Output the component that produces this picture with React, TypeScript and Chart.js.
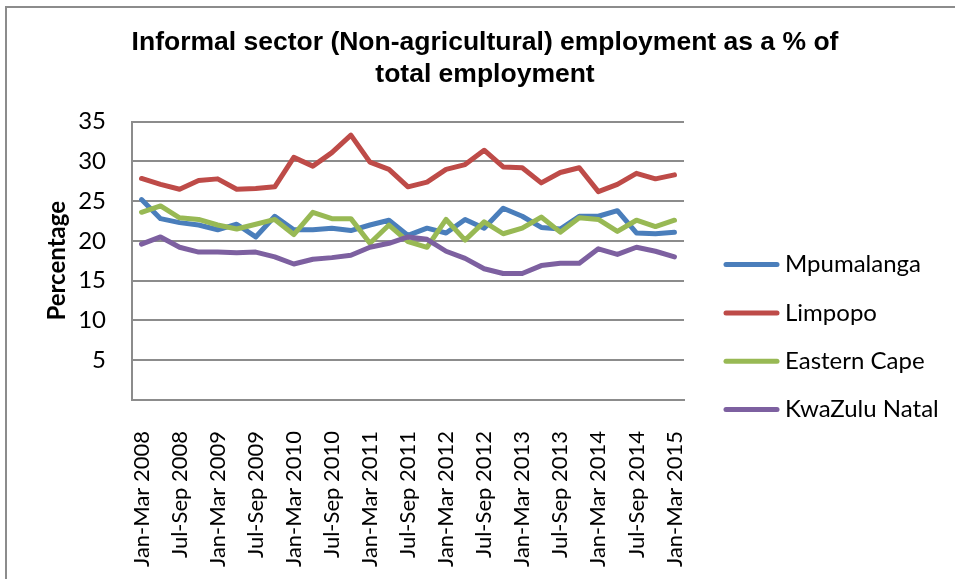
import React, { useEffect, useRef } from "react";
import { Chart, registerables } from "chart.js";

Chart.register(...registerables);

const quarters = [
  "Jan-Mar 2008", "Apr-Jun 2008", "Jul-Sep 2008", "Oct-Dec 2008",
  "Jan-Mar 2009", "Apr-Jun 2009", "Jul-Sep 2009", "Oct-Dec 2009",
  "Jan-Mar 2010", "Apr-Jun 2010", "Jul-Sep 2010", "Oct-Dec 2010",
  "Jan-Mar 2011", "Apr-Jun 2011", "Jul-Sep 2011", "Oct-Dec 2011",
  "Jan-Mar 2012", "Apr-Jun 2012", "Jul-Sep 2012", "Oct-Dec 2012",
  "Jan-Mar 2013", "Apr-Jun 2013", "Jul-Sep 2013", "Oct-Dec 2013",
  "Jan-Mar 2014", "Apr-Jun 2014", "Jul-Sep 2014", "Oct-Dec 2014",
  "Jan-Mar 2015",
];

const mpumalanga = [25.2, 22.8, 22.3, 22.0, 21.4, 22.1, 20.5, 23.1, 21.4, 21.4, 21.6, 21.3, 22.0, 22.6, 20.7, 21.6, 21.0, 22.7, 21.6, 24.1, 23.1, 21.7, 21.5, 23.1, 23.1, 23.8, 21.0, 20.9, 21.1];
const limpopo = [27.85, 27.1, 26.5, 27.6, 27.8, 26.5, 26.6, 26.8, 30.5, 29.4, 31.1, 33.3, 29.9, 29.0, 26.8, 27.4, 29.0, 29.6, 31.4, 29.3, 29.2, 27.3, 28.6, 29.2, 26.2, 27.1, 28.5, 27.8, 28.3];
const easternCape = [23.6, 24.4, 22.9, 22.7, 22.0, 21.5, 22.1, 22.7, 20.8, 23.6, 22.8, 22.8, 19.7, 22.0, 19.9, 19.2, 22.7, 20.1, 22.4, 20.9, 21.6, 23.0, 21.1, 22.9, 22.7, 21.2, 22.6, 21.8, 22.6];
const kwaZuluNatal = [19.6, 20.5, 19.2, 18.6, 18.6, 18.5, 18.6, 18.0, 17.1, 17.7, 17.9, 18.2, 19.2, 19.7, 20.5, 20.2, 18.7, 17.8, 16.5, 15.9, 15.9, 16.9, 17.2, 17.2, 19.0, 18.3, 19.2, 18.7, 18.0];

const seriesNames = ["Mpumalanga", "Limpopo", "Eastern Cape", "KwaZulu Natal"];
const seriesColors = ["#4A7EBB", "#BE4B48", "#98B954", "#7D60A0"];
const titleLines = ["Informal sector (Non-agricultural) employment as a % of", "total employment"];
const yAxisTitle = "Percentage";
const yMin = 0;
const yMax = 35;
const yStep = 5;

const BODY_FONT = "Lato, 'Open Sans', sans-serif";
const GRID = "#8c8c8c";

export default function App() {
  const ref = useRef<HTMLCanvasElement | null>(null);

  useEffect(() => {
    if (!ref.current) return;
    const sideLegend = {
      id: "sideLegend",
      afterDraw(chart: any) {
        const { ctx, chartArea } = chart;
        ctx.save();
        const x0 = chartArea.right + 40;
        chart.data.datasets.forEach((ds: any, i: number) => {
          const y = chartArea.top + 143 + i * 48.3;
          ctx.strokeStyle = ds.borderColor;
          ctx.lineWidth = 5;
          ctx.lineCap = "round";
          ctx.beginPath();
          ctx.moveTo(x0 + 2, y);
          ctx.lineTo(x0 + 53, y);
          ctx.stroke();
          ctx.fillStyle = "#000";
          ctx.font = `24px ${BODY_FONT}`;
          ctx.textBaseline = "middle";
          ctx.textAlign = "left";
          ctx.fillText(ds.label, x0 + 61, y);
        });
        ctx.restore();
      },
    };

    const values = [mpumalanga, limpopo, easternCape, kwaZuluNatal];
    const chart = new Chart(ref.current, {
      type: "line",
      data: {
        labels: quarters,
        datasets: values.map((v, i) => ({
          label: seriesNames[i],
          data: v,
          borderColor: seriesColors[i],
          backgroundColor: seriesColors[i],
          borderWidth: 5,
          pointRadius: 0,
          pointHoverRadius: 0,
          tension: 0,
          fill: false,
          borderJoinStyle: "round" as const,
          borderCapStyle: "round" as const,
          order: values.length - i,
        })),
      },
      options: {
        responsive: false,
        animation: false,
        layout: { padding: { left: 15, right: 0, top: 0, bottom: 0 } },
        plugins: {
          legend: { display: false },
          tooltip: { enabled: false },
          title: {
            display: true,
            text: titleLines,
            color: "#000",
            font: { family: "'Liberation Sans', Arial, sans-serif", size: 26.5, weight: "bold", lineHeight: 1.2 },
            padding: { top: 27, bottom: 31 },
          },
        },
        scales: {
          x: {
            type: "category",
            offset: true,
            grid: { display: false, drawTicks: false },
            border: { display: true, color: GRID, width: 2 },
            ticks: {
              autoSkip: false,
              minRotation: 90,
              maxRotation: 90,
              padding: 31,
              color: "#000",
              font: { family: BODY_FONT, size: 22 },
              callback: (_v: any, idx: number) => (idx % 2 === 0 ? quarters[idx] : ""),
            },
            afterFit: (s: any) => { s.height = 179; },
          },
          y: {
            type: "linear",
            position: "left",
            min: yMin,
            max: yMax,
            grid: { color: GRID, lineWidth: 2, drawTicks: false },
            border: { display: true, color: GRID, width: 2 },
            ticks: {
              stepSize: yStep,
              padding: 26,
              color: "#000",
              font: { family: BODY_FONT, size: 24 },
              callback: (v: any) => (v === 0 ? "" : String(v)),
            },
            title: {
              display: true,
              text: yAxisTitle,
              color: "#000",
              font: { family: BODY_FONT, size: 24, weight: "bold", lineHeight: 1.2 },
              padding: { top: 27.6, bottom: 0 },
            },
            afterFit: (s: any) => { s.width = 117; },
          },
          yReserve: {
            type: "linear",
            position: "right",
            display: true,
            grid: { display: false, drawTicks: false },
            border: { display: false },
            ticks: { display: false },
            afterFit: (s: any) => { s.width = 271; },
          },
        },
      },
      plugins: [sideLegend],
    });
    return () => chart.destroy();
  }, []);

  return (
    <div style={{ position: "absolute", left: 0, top: 0, width: 955, height: 579, background: "#fff", overflow: "hidden" }}>
      <div style={{ position: "absolute", left: 5, top: 6, width: 2, height: 573, background: GRID }} />
      <div style={{ position: "absolute", left: 5, top: 6, width: 950, height: 2, background: GRID }} />
      <canvas ref={ref} width={955} height={579} style={{ position: "absolute", left: 0, top: 0, display: "block" }} />
    </div>
  );
}
